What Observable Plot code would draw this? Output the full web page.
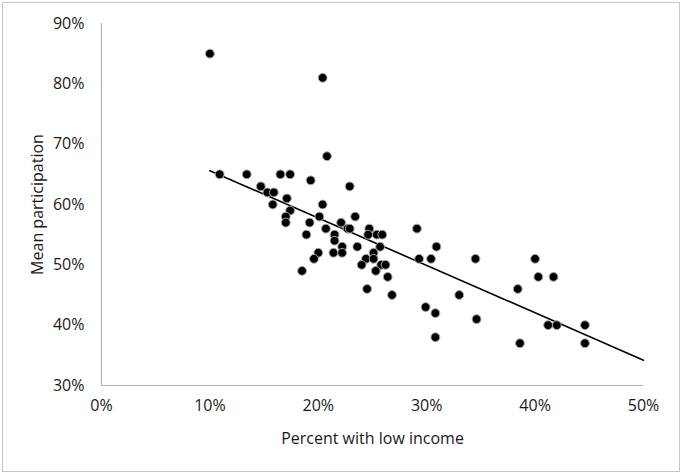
<!DOCTYPE html>
<html>
<head>
<meta charset="utf-8">
<script src="https://cdn.jsdelivr.net/npm/d3@7"></script>
<script src="https://cdn.jsdelivr.net/npm/@observablehq/plot@0.6"></script>
<style>
  html, body { margin: 0; padding: 0; background: #fff; }
  #chart svg { display: block; outline: 1px solid #c6c6c6; outline-offset: -3px; }
</style>
</head>
<body>
<div id="chart"></div>
<script>
// Percent with low income (x) and mean participation (y) for each point
const lowIncome = [
  0.100, 0.204, 0.208, 0.109, 0.134, 0.165, 0.174, 0.193, 0.147, 0.229,
  0.153, 0.159, 0.171, 0.158, 0.204, 0.174, 0.170, 0.201, 0.234, 0.170,
  0.192, 0.221, 0.207, 0.227, 0.229, 0.247, 0.291, 0.189, 0.215, 0.246,
  0.254, 0.259, 0.215, 0.222, 0.236, 0.257, 0.309, 0.200, 0.214, 0.222,
  0.251, 0.196, 0.244, 0.251, 0.293, 0.304, 0.345, 0.400, 0.240, 0.258,
  0.262, 0.185, 0.253, 0.264, 0.403, 0.417, 0.245, 0.384, 0.268, 0.330,
  0.299, 0.308, 0.346, 0.412, 0.420, 0.446, 0.308, 0.386, 0.446
];
const participation = [
  0.85, 0.81, 0.68, 0.65, 0.65, 0.65, 0.65, 0.64, 0.63, 0.63,
  0.62, 0.62, 0.61, 0.60, 0.60, 0.59, 0.58, 0.58, 0.58, 0.57,
  0.57, 0.57, 0.56, 0.56, 0.56, 0.56, 0.56, 0.55, 0.55, 0.55,
  0.55, 0.55, 0.54, 0.53, 0.53, 0.53, 0.53, 0.52, 0.52, 0.52,
  0.52, 0.51, 0.51, 0.51, 0.51, 0.51, 0.51, 0.51, 0.50, 0.50,
  0.50, 0.49, 0.49, 0.48, 0.48, 0.48, 0.46, 0.46, 0.45, 0.45,
  0.43, 0.42, 0.41, 0.40, 0.40, 0.40, 0.38, 0.37, 0.37
];
// linear trendline (start and end)
const trendX = [0.10, 0.50];
const trendY = [0.656, 0.342];
const xTicks = [0, 0.1, 0.2, 0.3, 0.4, 0.5];
const yTicks = [0.3, 0.4, 0.5, 0.6, 0.7, 0.8, 0.9];
const xTitle = "Percent with low income";
const yTitle = "Mean participation";

const points = lowIncome.map((x, i) => ({x, y: participation[i]}));
const trend = trendX.map((x, i) => ({x, y: trendY[i]}));

const fmt = d3.format(".0%");
const font = "'Open Sans', sans-serif";

const chart = Plot.plot({
  width: 682,
  height: 474,
  marginLeft: 101,
  marginRight: 39,
  marginTop: 23,
  marginBottom: 89,
  style: {fontFamily: font, fontSize: "16px", color: "#1a1a1a", background: "#fff"},
  x: {domain: [0, 0.5]},
  y: {domain: [0.3, 0.9]},
  marks: [
    Plot.ruleX([0], {stroke: "#b3b3b3", strokeWidth: 1.2}),
    Plot.ruleY([0.3], {stroke: "#b3b3b3", strokeWidth: 1.2}),
    Plot.axisX({ticks: xTicks, tickFormat: fmt, tickSize: 0, tickPadding: 14,
      fontSize: 16, label: xTitle, labelAnchor: "center", labelArrow: "none", labelOffset: 58}),
    Plot.axisY({ticks: yTicks, tickFormat: fmt, tickSize: 0, tickPadding: 17,
      fontSize: 16, label: yTitle, labelAnchor: "center", labelArrow: "none", labelOffset: 70}),
    Plot.line(trend, {x: "x", y: "y", stroke: "#000", strokeWidth: 1.6}),
    Plot.dot(points, {x: "x", y: "y", r: 4.4, fill: "#000", stroke: "#a6a6a6", strokeWidth: 1})
  ]
});
document.getElementById("chart").append(chart);
</script>
</body>
</html>
